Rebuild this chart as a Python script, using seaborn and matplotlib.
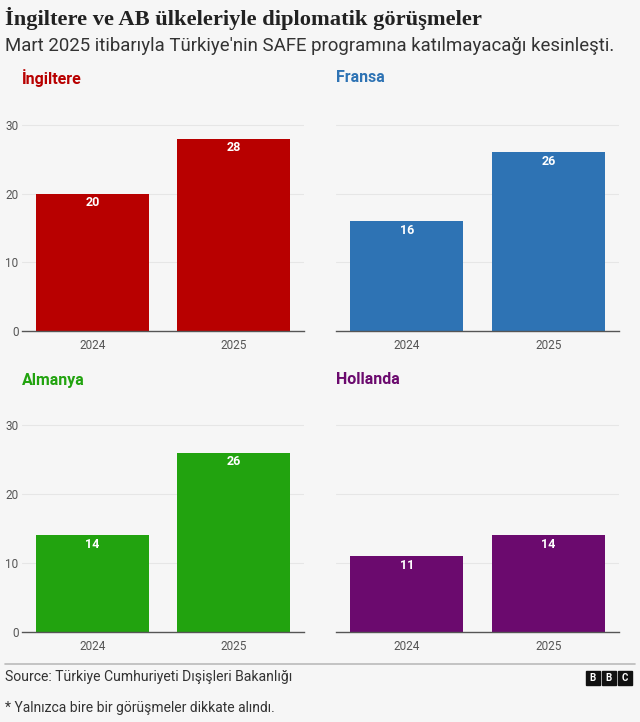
import pandas as pd
import matplotlib.pyplot as plt
import seaborn as sns
from matplotlib.patches import Rectangle

# data
years = ['2024', '2025']
ingiltere = [20, 28]
fransa = [16, 26]
almanya = [14, 26]
hollanda = [11, 14]

panels = [
    ('İngiltere', ingiltere, '#B80000'),
    ('Fransa', fransa, '#2E73B4'),
    ('Almanya', almanya, '#22A30F'),
    ('Hollanda', hollanda, '#6B0A6E'),
]

BG = '#F6F6F6'
W, H = 640, 722

sns.set_theme(style='white')
plt.rcParams['font.family'] = ['Roboto', 'DejaVu Sans']

fig = plt.figure(figsize=(W / 100, H / 100), dpi=100, facecolor=BG)


def px_axes(x0, y_top, x1, y_bot):
    return fig.add_axes([x0 / W, 1 - y_bot / H, (x1 - x0) / W, (y_bot - y_top) / H])


# pixel boxes of the four plot areas: (left, top, right, zero line)
boxes = [(22, 105, 304, 331), (336, 105, 619, 331),
         (22, 405, 304, 632), (336, 405, 619, 632)]
title_pos = [(22, 78), (336, 78), (22, 380), (336, 380)]

for i, ((name, vals, col), box, tp) in enumerate(zip(panels, boxes, title_pos)):
    ax = px_axes(*box)
    ax.set_facecolor(BG)
    df = pd.DataFrame({'yil': years, 'sayi': vals})
    sns.barplot(data=df, x='yil', y='sayi', color=col, saturation=1, width=0.8,
                ax=ax, edgecolor='none')
    ax.set_ylim(0, 32.9)
    ax.set_xlim(-0.5, 1.5)
    ax.set_yticks([0, 10, 20, 30])
    for g in [10, 20, 30]:
        ax.axhline(g, color='#E6E6E6', lw=0.8, zorder=0)
    ax.set_axisbelow(True)
    ax.set_xlabel('')
    ax.set_ylabel('')
    for s in ['top', 'right', 'left']:
        ax.spines[s].set_visible(False)
    ax.spines['bottom'].set_color('#555555')
    ax.spines['bottom'].set_linewidth(1)
    ax.tick_params(axis='x', length=4, color='#555555', labelsize=8.5,
                   labelcolor='#555555', pad=1.5)
    if i % 2 == 0:
        ax.tick_params(axis='y', length=0, labelsize=8.5, labelcolor='#555555', pad=2.5)
    else:
        ax.tick_params(axis='y', length=0, labelleft=False)
    for j, v in enumerate(vals):
        ax.annotate(str(v), (j, v), xytext=(0, -2), textcoords='offset points',
                    ha='center', va='top', color='white', fontsize=9,
                    fontweight='bold')
    fig.text(tp[0] / W, 1 - tp[1] / H, name, color=col, fontsize=11.5,
             fontweight='bold', ha='left', va='center')

# titles
fig.text(5 / W, 1 - 18 / H, 'İngiltere ve AB ülkeleriyle diplomatik görüşmeler',
         family=['Liberation Serif', 'DejaVu Serif'], fontsize=16.2, fontweight='bold',
         color='#222222', ha='left', va='center')
fig.text(5 / W, 1 - 46 / H,
         "Mart 2025 itibarıyla Türkiye'nin SAFE programına katılmayacağı kesinleşti.",
         fontsize=13.4, color='#333333', ha='left', va='center')

# footer
fig.add_artist(plt.Line2D([5 / W, 635 / W], [1 - 664 / H, 1 - 664 / H],
                          color='#BBBBBB', lw=1.2))
fig.text(5 / W, 1 - 677 / H, 'Source: Türkiye Cumhuriyeti Dışişleri Bakanlığı',
         fontsize=10.1, color='#333333', ha='left', va='center')
fig.text(5 / W, 1 - 708 / H, '* Yalnızca bire bir görüşmeler dikkate alındı.',
         fontsize=10, color='#333333', ha='left', va='center')

for k, letter in enumerate('BBC'):
    x0 = 586 + k * 16
    fig.add_artist(Rectangle((x0 / W, 1 - 685 / H), 14 / W, 14 / H,
                             transform=fig.transFigure, color='#111111'))
    fig.text((x0 + 7) / W, 1 - 678 / H, letter, fontsize=7, fontweight='bold',
             color='white', ha='center', va='center')

fig.savefig('out.png', dpi=100, facecolor=BG)
